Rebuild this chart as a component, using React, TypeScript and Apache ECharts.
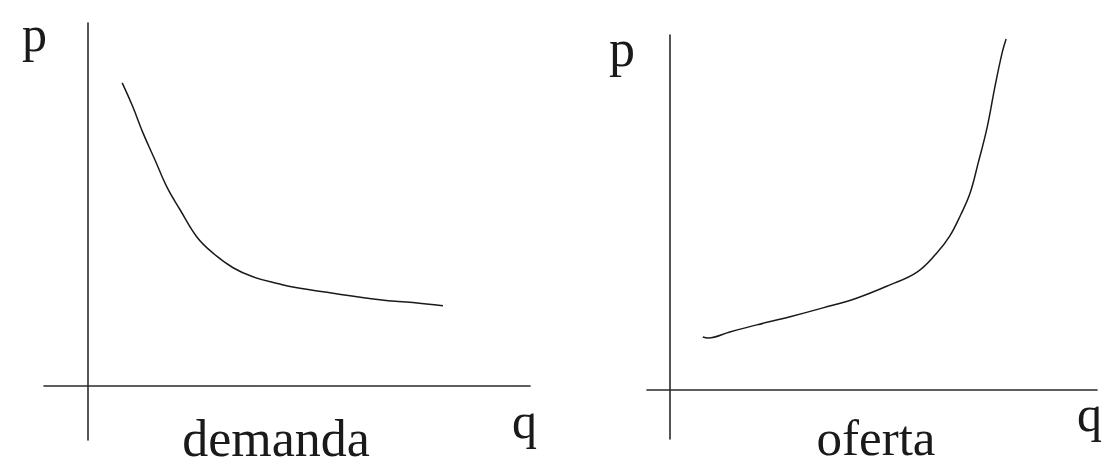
import React, { useEffect, useRef } from "react";
import * as echarts from "echarts";

// Demand curve: quantity q and price p
const demandQ = [0.77, 1.01, 1.24, 1.51, 1.78, 2.08, 2.46, 2.82, 3.28, 3.73, 4.34, 4.63, 5.47, 6.6, 7.35, 8.03];
const demandP = [8.35, 7.69, 6.97, 6.23, 5.48, 4.85, 4.1, 3.66, 3.25, 3.0, 2.8, 2.72, 2.56, 2.37, 2.29, 2.2];

// Supply curve: quantity q and price p
const supplyQ = [0.74, 0.86, 1.34, 1.94, 2.68, 3.41, 4.17, 4.9, 5.5, 5.94, 6.23, 6.48, 6.68, 6.86, 7.06, 7.23, 7.39, 7.48];
const supplyP = [1.48, 1.45, 1.62, 1.82, 2.05, 2.3, 2.58, 2.95, 3.31, 3.85, 4.33, 4.95, 5.54, 6.39, 7.4, 8.53, 9.49, 9.89];

// Labels
const priceLabel = "p";
const quantityLabel = "q";
const demandTitle = "demanda";
const supplyTitle = "oferta";

const FONT = "'Liberation Serif', 'Times New Roman', serif";
const INK = "#1a1a1a";
const AXIS = "#2a2a2a";

const zip = (a: number[], b: number[]) => a.map((v, i) => [v, b[i]]);

const hiddenAxisBits = {
  axisTick: { show: false },
  axisLabel: { show: false },
  splitLine: { show: false },
};

const axisLine = { show: true, onZero: true, lineStyle: { color: AXIS, width: 1.6 } };

const label = (text: string, x: number, y: number, size: number, align = "left") => ({
  type: "text",
  x,
  y,
  style: {
    text,
    font: `${size}px ${FONT}`,
    fill: INK,
    align,
    verticalAlign: "middle",
  },
});

export default function App() {
  const ref = useRef<HTMLDivElement>(null);

  useEffect(() => {
    if (!ref.current) return;
    const chart = echarts.init(ref.current, null, { renderer: "svg" });
    chart.setOption({
      animation: false,
      backgroundColor: "#ffffff",
      grid: [
        { left: 44, top: 23, width: 486, height: 417 },
        { left: 647, top: 35, width: 450, height: 404 },
      ],
      xAxis: [
        { type: "value", gridIndex: 0, min: -1, max: 10, axisLine, ...hiddenAxisBits },
        { type: "value", gridIndex: 1, min: -0.5, max: 9.5, axisLine, ...hiddenAxisBits },
      ],
      yAxis: [
        { type: "value", gridIndex: 0, min: -1.5, max: 10, axisLine, ...hiddenAxisBits },
        { type: "value", gridIndex: 1, min: -1.4, max: 10, axisLine, ...hiddenAxisBits },
      ],
      series: [
        {
          name: demandTitle,
          type: "line",
          xAxisIndex: 0,
          yAxisIndex: 0,
          data: zip(demandQ, demandP),
          smooth: 0.4,
          showSymbol: false,
          lineStyle: { color: INK, width: 1.5 },
        },
        {
          name: supplyTitle,
          type: "line",
          xAxisIndex: 1,
          yAxisIndex: 1,
          data: zip(supplyQ, supplyP),
          smooth: 0.4,
          showSymbol: false,
          lineStyle: { color: INK, width: 1.5 },
        },
      ],
      graphic: [
        label(priceLabel, 22, 34, 50),
        label(quantityLabel, 512, 421, 50),
        label(demandTitle, 276, 438, 52, "center"),
        label(priceLabel, 609, 48, 52),
        label(quantityLabel, 1077, 414, 50),
        label(supplyTitle, 876, 438, 51, "center"),
      ],
    });
    return () => chart.dispose();
  }, []);

  return (
    <div
      ref={ref}
      style={{ position: "fixed", left: 0, top: 0, width: 1104, height: 468, background: "#fff" }}
    />
  );
}
